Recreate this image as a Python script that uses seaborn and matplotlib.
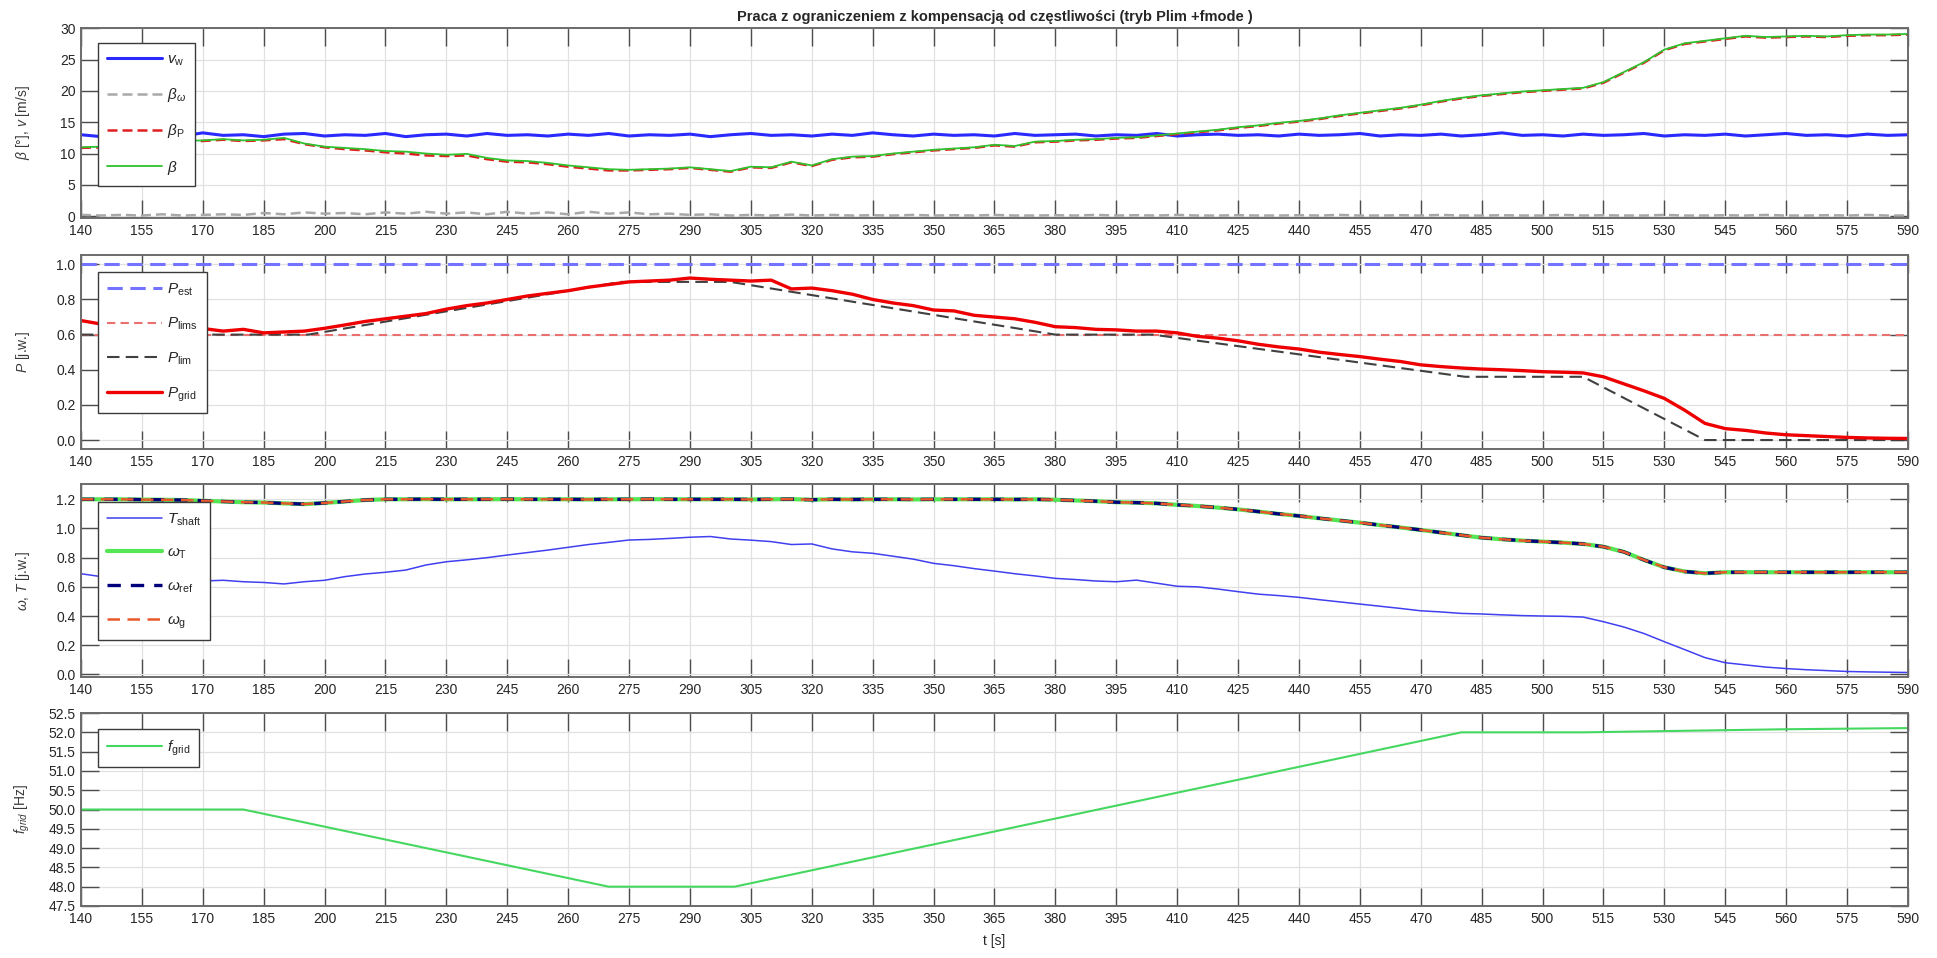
import numpy as np
import pandas as pd
import matplotlib
matplotlib.use("Agg")
import matplotlib.pyplot as plt
import seaborn as sns

sns.set_theme(style="whitegrid")
plt.rcParams["font.family"] = ["Liberation Sans", "DejaVu Sans"]
plt.rcParams["mathtext.fontset"] = "custom"
plt.rcParams["mathtext.rm"] = "Liberation Sans"
plt.rcParams["mathtext.it"] = "Liberation Sans:italic"
plt.rcParams["mathtext.bf"] = "Liberation Sans:bold"

# ---- data ----
t5 = np.arange(140, 591, 5)

v_w = [13.0, 12.7, 13.2, 12.9, 13.1, 12.8, 13.3, 12.9, 13.0, 12.7,
       13.1, 13.2, 12.8, 13.0, 12.9, 13.2, 12.7, 13.0, 13.1, 12.8,
       13.2, 12.9, 13.0, 12.8, 13.1, 12.9, 13.2, 12.8, 13.0, 12.9,
       13.1, 12.7, 13.0, 13.2, 12.9, 13.0, 12.8, 13.1, 12.9, 13.3,
       13.0, 12.8, 13.1, 12.9, 13.0, 12.8, 13.2, 12.9, 13.0, 13.1,
       12.8, 13.0, 12.9, 13.2, 12.8, 13.0, 13.1, 12.9, 13.0, 12.8,
       13.1, 12.9, 13.0, 13.2, 12.8, 13.0, 12.9, 13.1, 12.8, 13.0,
       13.3, 12.9, 13.0, 12.8, 13.1, 12.9, 13.0, 13.2, 12.8, 13.0,
       12.9, 13.1, 12.8, 13.0, 13.2, 12.9, 13.0, 12.8, 13.1, 12.9,
       13.0]

beta_w = [0.2, 0.1, 0.2, 0.1, 0.3, 0.1, 0.2, 0.3, 0.2, 0.5,
          0.3, 0.6, 0.4, 0.5, 0.3, 0.6, 0.4, 0.7, 0.4, 0.6,
          0.3, 0.7, 0.4, 0.6, 0.3, 0.7, 0.4, 0.6, 0.3, 0.4,
          0.2, 0.3, 0.1, 0.2, 0.1, 0.25, 0.1, 0.2, 0.1, 0.15,
          0.1, 0.2, 0.1, 0.15, 0.1, 0.2, 0.1, 0.1, 0.15, 0.1,
          0.2, 0.1, 0.15, 0.1, 0.2, 0.1, 0.1, 0.15, 0.1, 0.1,
          0.15, 0.1, 0.2, 0.1, 0.1, 0.15, 0.1, 0.2, 0.1, 0.1,
          0.15, 0.1, 0.1, 0.2, 0.1, 0.15, 0.1, 0.1, 0.2, 0.1,
          0.1, 0.15, 0.1, 0.2, 0.1, 0.1, 0.15, 0.1, 0.2, 0.1,
          0.1]

beta_p = [10.9, 11.0, 11.3, 11.6, 11.8, 11.9, 12.0, 12.2, 12.0, 12.1,
          12.3, 11.5, 11.0, 10.7, 10.5, 10.2, 10.0, 9.7, 9.6, 9.7,
          9.1, 8.7, 8.6, 8.3, 7.9, 7.6, 7.3, 7.3, 7.4, 7.5,
          7.7, 7.4, 7.1, 7.8, 7.7, 8.6, 8.0, 9.0, 9.4, 9.5,
          9.9, 10.2, 10.5, 10.7, 10.9, 11.3, 11.1, 11.8, 11.9, 12.1,
          12.2, 12.4, 12.5, 12.8, 13.1, 13.4, 13.7, 14.1, 14.4, 14.8,
          15.1, 15.5, 16.0, 16.4, 16.8, 17.2, 17.7, 18.3, 18.8, 19.2,
          19.5, 19.8, 20.0, 20.2, 20.4, 21.3, 22.9, 24.5, 26.5, 27.5,
          27.9, 28.3, 28.7, 28.5, 28.6, 28.7, 28.6, 28.8, 28.9, 28.9,
          29.0]

beta = [11.0, 11.1, 11.4, 11.7, 11.9, 12.0, 12.1, 12.3, 12.1, 12.2,
        12.5, 11.6, 11.1, 10.9, 10.7, 10.4, 10.3, 10.0, 9.8, 9.95,
        9.3, 8.9, 8.8, 8.5, 8.1, 7.8, 7.5, 7.4, 7.5, 7.6,
        7.8, 7.5, 7.2, 7.9, 7.8, 8.7, 8.1, 9.1, 9.5, 9.6,
        10.0, 10.3, 10.6, 10.8, 11.0, 11.4, 11.2, 11.9, 12.0, 12.2,
        12.3, 12.5, 12.6, 12.9, 13.2, 13.5, 13.8, 14.2, 14.5, 14.9,
        15.2, 15.6, 16.1, 16.5, 16.9, 17.3, 17.8, 18.4, 18.9, 19.3,
        19.6, 19.9, 20.1, 20.3, 20.5, 21.4, 23.0, 24.6, 26.6, 27.6,
        28.0, 28.4, 28.8, 28.6, 28.7, 28.8, 28.7, 28.9, 29.0, 29.0,
        29.1]

t_flat = [140, 590]
p_est = [1.0, 1.0]
p_lims = [0.6, 0.6]
t_plim = [140, 196, 273, 300, 380, 404, 481, 510, 540, 590]
p_lim = [0.6, 0.6, 0.9, 0.9, 0.6, 0.6, 0.36, 0.36, 0.0, 0.0]

p_grid = [0.68, 0.66, 0.65, 0.64, 0.64, 0.635, 0.635, 0.62, 0.63, 0.61,
          0.615, 0.62, 0.636, 0.655, 0.675, 0.69, 0.705, 0.72, 0.745, 0.765,
          0.78, 0.80, 0.82, 0.835, 0.85, 0.87, 0.885, 0.90, 0.905, 0.91,
          0.922, 0.915, 0.91, 0.905, 0.91, 0.86, 0.865, 0.85, 0.83, 0.80,
          0.78, 0.765, 0.74, 0.735, 0.71, 0.70, 0.69, 0.67, 0.645, 0.64,
          0.63, 0.627, 0.62, 0.62, 0.61, 0.59, 0.58, 0.565, 0.545, 0.53,
          0.518, 0.50, 0.487, 0.475, 0.46, 0.447, 0.428, 0.418, 0.41, 0.404,
          0.40, 0.395, 0.389, 0.386, 0.382, 0.36, 0.32, 0.28, 0.237, 0.17,
          0.095, 0.065, 0.055, 0.04, 0.03, 0.025, 0.02, 0.015, 0.012, 0.01,
          0.009]

t_shaft = [0.69, 0.67, 0.66, 0.655, 0.65, 0.645, 0.64, 0.645, 0.635, 0.63,
           0.62, 0.635, 0.645, 0.67, 0.688, 0.70, 0.715, 0.75, 0.772, 0.785,
           0.80, 0.818, 0.835, 0.852, 0.871, 0.89, 0.905, 0.921, 0.925, 0.932,
           0.94, 0.945, 0.928, 0.92, 0.91, 0.89, 0.894, 0.86, 0.84, 0.83,
           0.81, 0.79, 0.761, 0.745, 0.725, 0.708, 0.69, 0.675, 0.658, 0.65,
           0.64, 0.635, 0.646, 0.625, 0.604, 0.60, 0.585, 0.567, 0.55, 0.54,
           0.528, 0.512, 0.497, 0.482, 0.467, 0.452, 0.436, 0.428, 0.418, 0.414,
           0.408, 0.403, 0.40, 0.398, 0.393, 0.361, 0.325, 0.28, 0.224, 0.17,
           0.115, 0.08, 0.065, 0.05, 0.04, 0.032, 0.026, 0.02, 0.017, 0.015,
           0.013]

# omega_T, omega_ref and omega_g lie on top of each other in the reference
omega = [1.2, 1.2, 1.2, 1.198, 1.197, 1.195, 1.19, 1.185, 1.18, 1.178,
         1.172, 1.167, 1.175, 1.185, 1.195, 1.2, 1.2, 1.201, 1.2, 1.2,
         1.2, 1.201, 1.2, 1.2, 1.2, 1.199, 1.2, 1.2, 1.201, 1.2,
         1.2, 1.2, 1.2, 1.199, 1.2, 1.201, 1.197, 1.2, 1.199, 1.2,
         1.2, 1.199, 1.2, 1.2, 1.2, 1.2, 1.199, 1.2, 1.197, 1.192,
         1.187, 1.18, 1.177, 1.172, 1.162, 1.154, 1.143, 1.131, 1.116, 1.10,
         1.086, 1.07, 1.055, 1.04, 1.023, 1.007, 0.99, 0.972, 0.954, 0.937,
         0.926, 0.917, 0.91, 0.903, 0.894, 0.875, 0.84, 0.784, 0.734, 0.705,
         0.693, 0.70, 0.70, 0.70, 0.70, 0.70, 0.70, 0.70, 0.70, 0.70,
         0.70]

t_f = [140, 180, 270, 301, 480, 510, 560, 590]
f_grid = [50.0, 50.0, 48.0, 48.0, 52.0, 52.0, 52.08, 52.11]

x_ticks = list(range(140, 591, 15))


def draw(ax, x, y, label, color, lw, ls="-"):
    sns.lineplot(x=x, y=y, ax=ax, color=color, lw=lw, linestyle=ls,
                 label=label, sort=False, estimator=None)


def style_axes(ax, ylim, yticks, yfmt, ylabel, leg_top):
    ax.set_xlim(140, 590)
    ax.set_ylim(*ylim)
    ax.set_xticks(x_ticks)
    ax.set_yticks(yticks)
    ax.set_yticklabels([yfmt.format(v) for v in yticks])
    ax.tick_params(direction="in", length=13, width=1, color="#4d4d4d",
                   labelsize=10, labelcolor="#262626", top=True, right=True,
                   bottom=True, left=True, pad=4)
    ax.grid(True, color="#e1e1e1", lw=0.9)
    for sp in ax.spines.values():
        sp.set_color("#6b6b6b")
        sp.set_linewidth(1.4)
    ax.set_xlabel("")
    ax.set_ylabel(ylabel, fontsize=10, color="#3a3a3a")
    ax.yaxis.set_label_coords(-0.027, 0.5)
    leg = ax.legend(loc="upper left", bbox_to_anchor=(0.0093, leg_top),
                    borderaxespad=0, fontsize=11, handlelength=3.6,
                    handletextpad=0.3, labelspacing=1.2, borderpad=0.6,
                    fancybox=False, framealpha=1, edgecolor="#3a3a3a")
    leg.get_frame().set_linewidth(1.0)


fig = plt.figure(figsize=(19.37, 9.58), dpi=100)
L, W = 0.0418, 0.9432
ax1 = fig.add_axes([L, 0.7724, W, 0.1984])
ax2 = fig.add_axes([L, 0.5313, W, 0.2025])
ax3 = fig.add_axes([L, 0.2933, W, 0.2015])
ax4 = fig.add_axes([L, 0.0543, W, 0.2014])

# panel 1: pitch angle and wind speed
draw(ax1, t5, v_w, r"$v_{\mathrm{w}}$", "#2a2aff", 2.2)
draw(ax1, t5, beta_w, r"$\beta_{\omega}$", "#a8a8a8", 1.8, (0, (4, 2)))
draw(ax1, t5, beta_p, r"$\beta_{\mathrm{P}}$", "#e02020", 1.8, (0, (4, 2)))
draw(ax1, t5, beta, r"$\beta$", "#2fc22f", 1.3)
style_axes(ax1, (-0.3, 30.05), list(range(0, 31, 5)), "{:d}",
           r"$\beta$ [°], $v$ [m/s]", 0.921)
ax1.set_title("Praca z ograniczeniem z kompensacją od częstliwości (tryb Plim +fmode )",
              fontsize=10.5, fontweight="bold", pad=5)

# panel 2: power
draw(ax2, t_flat, p_est, r"$P_{\mathrm{est}}$", "#7373ff", 2.2, (0, (5, 2.5)))
draw(ax2, t_flat, p_lims, r"$P_{\mathrm{lims}}$", "#ea6f6f", 1.5, (0, (4, 2.5)))
draw(ax2, t_plim, p_lim, r"$P_{\mathrm{lim}}$", "#404040", 1.5, (0, (6, 3)))
draw(ax2, t5, p_grid, r"$P_{\mathrm{grid}}$", "#ee0000", 2.4)
p_ticks = [0.0, 0.2, 0.4, 0.6, 0.8, 1.0]
style_axes(ax2, (-0.051, 1.053), p_ticks, "{:.1f}", r"$P$ [j.w.]", 0.912)

# panel 3: speeds and torque
draw(ax3, t5, t_shaft, r"$T_{\mathrm{shaft}}$", "#4040f0", 1.1)
draw(ax3, t5, omega, r"$\omega_{\mathrm{T}}$", "#55e655", 3.0)
draw(ax3, t5, omega, r"$\omega_{\mathrm{ref}}$", "#00007a", 2.4, (0, (4, 3)))
draw(ax3, t5, omega, r"$\omega_{\mathrm{g}}$", "#e8582a", 1.8, (0, (5, 3)))
w_ticks = [0.0, 0.2, 0.4, 0.6, 0.8, 1.0, 1.2]
style_axes(ax3, (-0.018, 1.305), w_ticks, "{:.1f}", r"$\omega$, $T$ [j.w.]", 0.907)

# panel 4: grid frequency
draw(ax4, t_f, f_grid, r"$f_{\mathrm{grid}}$", "#45d860", 1.5)
f_ticks = [47.5 + 0.5 * i for i in range(11)]
style_axes(ax4, (47.5, 52.5), f_ticks, "{:.1f}", r"$f_{grid}$ [Hz]", 0.917)
ax4.set_xlabel("t [s]", fontsize=10, color="#262626", labelpad=6)

fig.savefig("out.png", dpi=100)
